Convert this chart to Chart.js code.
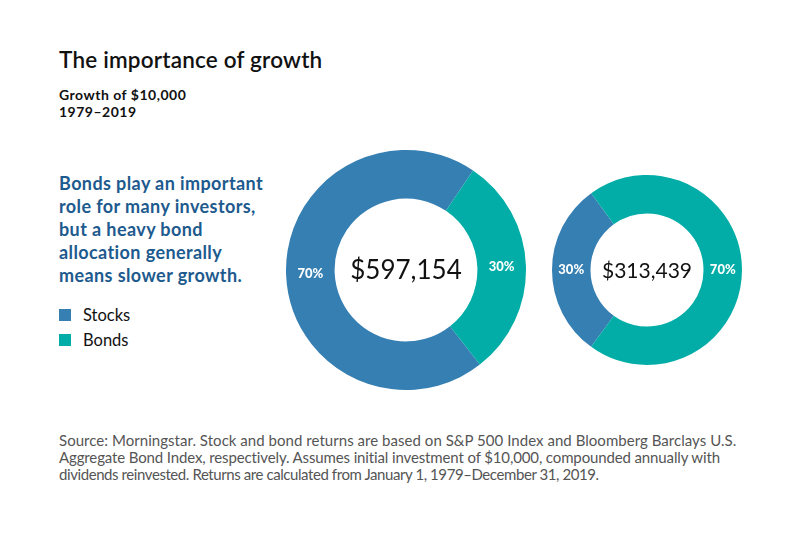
<!DOCTYPE html>
<html>
<head>
<meta charset="utf-8">
<script src="https://cdn.jsdelivr.net/npm/chart.js@4/dist/chart.umd.min.js"></script>
<style>
  body { margin: 0; width: 800px; height: 534px; background: #fff; position: relative; overflow: hidden; font-family: Lato, "Noto Sans", sans-serif; }
  .abs { position: absolute; }
  #titulo { left: 59px; top: 46px; font-size: 22.5px; font-weight: 600; color: #111; letter-spacing: 0.2px; }
  #sub { left: 59px; top: 86px; font-size: 14px; font-weight: 700; color: #111; line-height: 17px; letter-spacing: 0.5px; }
  #mensaje { left: 59px; top: 172px; font-size: 18px; font-weight: 700; color: #1d5a8e; line-height: 23px; letter-spacing: 0.4px; }
  #leyenda { left: 59px; top: 302px; font-size: 16.5px; color: #111; }
  #leyenda div { height: 25px; display: flex; align-items: center; }
  #leyenda span.cuadro { width: 12px; height: 12px; display: inline-block; margin-right: 12px; }
  #fuente { left: 59px; top: 432px; font-size: 15px; color: #555; line-height: 17px; font-family: Lato, sans-serif; width: 740px; white-space: nowrap; }
  canvas { position: absolute; }
</style>
</head>
<body>
<div id="titulo" class="abs">The importance of growth</div>
<div id="sub" class="abs">Growth of $10,000<br>1979–2019</div>
<div id="mensaje" class="abs">Bonds play an important<br>role for many investors,<br>but a heavy bond<br>allocation generally<br>means slower growth.</div>
<div id="leyenda" class="abs"></div>
<div id="fuente" class="abs">
  <div style="letter-spacing:0.04px">Source: Morningstar. Stock and bond returns are based on S&amp;P 500 Index and Bloomberg Barclays U.S.</div>
  <div style="letter-spacing:-0.13px">Aggregate Bond Index, respectively. Assumes initial investment of $10,000, compounded annually with</div>
  <div style="letter-spacing:-0.42px">dividends reinvested. Returns are calculated from January 1, 1979–December 31, 2019.</div>
</div>
<canvas id="graf1" style="left:284px; top:148px;" width="244" height="244"></canvas>
<canvas id="graf2" style="left:550px; top:173px;" width="194" height="194"></canvas>
<script>
const categorias = ['Stocks', 'Bonds'];
const colores = ['#357fb2', '#01ada6'];
const cartera1 = [70, 30]; // 70% acciones / 30% bonos
const cartera2 = [30, 70]; // 30% acciones / 70% bonos
const valorFinal1 = '$597,154';
const valorFinal2 = '$313,439';

// leyenda html
const ley = document.getElementById('leyenda');
categorias.forEach((c, i) => {
  const d = document.createElement('div');
  d.innerHTML = '<span class="cuadro" style="background:' + colores[i] + '"></span>' + c;
  ley.appendChild(d);
});

// plugin para porcentajes y texto central
const etiquetas = {
  id: 'etiquetas',
  afterDatasetsDraw(chart, args, opts) {
    const ctx = chart.ctx;
    const meta = chart.getDatasetMeta(0);
    ctx.save();
    ctx.textAlign = 'center';
    ctx.textBaseline = 'middle';
    ctx.fillStyle = '#fff';
    ctx.font = '900 13px Lato, sans-serif';
    meta.data.forEach((arc, i) => {
      const p = arc.tooltipPosition();
      ctx.fillText(chart.data.datasets[0].data[i] + '%', p.x, p.y);
    });
    const a = chart.chartArea;
    ctx.fillStyle = '#111';
    ctx.font = opts.size + 'px Lato, sans-serif';
    ctx.fillText(opts.texto, (a.left + a.right) / 2, (a.top + a.bottom) / 2 + 1);
    ctx.restore();
  }
};

function dona(id, datos, rot, texto, size) {
  return new Chart(document.getElementById(id), {
    type: 'doughnut',
    data: {
      labels: categorias,
      datasets: [{ data: datos, backgroundColor: colores, borderWidth: 0 }]
    },
    options: {
      responsive: false,
      animation: false,
      cutout: '59.5%',
      rotation: rot,
      layout: { padding: 2 },
      plugins: {
        legend: { display: false },
        tooltip: { enabled: false },
        etiquetas: { texto: texto, size: size }
      }
    },
    plugins: [etiquetas]
  });
}

dona('graf1', cartera1, 142, valorFinal1, 26);
dona('graf2', cartera2, 216, valorFinal2, 21);
</script>
</body>
</html>
